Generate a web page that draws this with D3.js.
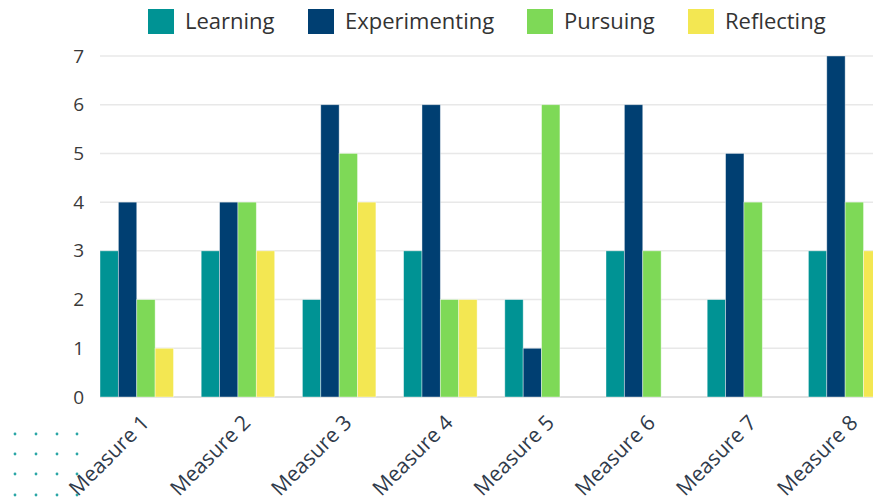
<!DOCTYPE html>
<html><head><meta charset="utf-8">
<script src="https://cdn.jsdelivr.net/npm/d3@7"></script>
<style>body{margin:0;background:#fff;overflow:hidden}svg{display:block}text{font-family:"Open Sans",sans-serif}</style>
</head><body><svg id="c" width="873" height="504"></svg>
<script>
const categories = ["Measure 1","Measure 2","Measure 3","Measure 4","Measure 5","Measure 6","Measure 7","Measure 8"];
const seriesNames = ["Learning","Experimenting","Pursuing","Reflecting"];
const learning = [3,3,2,3,2,3,2,3];
const experimenting = [4,4,6,6,1,6,5,7];
const pursuing = [2,4,5,2,6,3,4,4];
const reflecting = [1,3,4,2,0,0,0,3];
const yTicks = [0,1,2,3,4,5,6,7];
const colors = ["#009394","#003f72","#7ed957","#f3e752"];
const seriesValues = [learning, experimenting, pursuing, reflecting];

const svg = d3.select("#c");
const plotLeft = 100, step = 101.2, plotTop = 56, plotBottom = 397;
const x0 = d3.scaleBand().domain(categories).range([plotLeft, plotLeft + step*categories.length]);
const x1 = d3.scaleBand().domain(seriesNames).range([0, 73.5]);
const y = d3.scaleLinear().domain([0,7]).range([plotBottom, plotTop]);

// gridlines
svg.append("g").selectAll("line").data(yTicks).join("line")
  .attr("x1", plotLeft).attr("x2", 873)
  .attr("y1", d=>y(d)).attr("y2", d=>y(d))
  .attr("stroke", d=> d===0 ? "#d6d6d6" : "#e8e8e8").attr("stroke-width", 1.5);

// y axis labels
const yAxis = d3.axisLeft(y).tickValues(yTicks).tickFormat(d3.format("d")).tickSize(0).tickPadding(0);
const yg = svg.append("g").attr("transform", `translate(84,0)`).call(yAxis);
yg.select(".domain").remove();
yg.selectAll("text").attr("font-size", 19).attr("fill", "#3a3a3a").attr("font-family", "'Open Sans',sans-serif");

// bars
const groups = svg.append("g").selectAll("g").data(categories).join("g")
  .attr("transform", d=>`translate(${x0(d)},0)`);
groups.selectAll("rect").data((d,i)=> seriesNames.map((s,j)=>({s, v: seriesValues[j][i], c: colors[j]})))
  .join("rect")
  .attr("x", d=>x1(d.s)).attr("width", x1.bandwidth())
  .attr("y", d=>y(d.v)).attr("height", d=>y(0)-y(d.v))
  .attr("fill", d=>d.c).attr("stroke", "rgba(255,255,255,0.5)").attr("stroke-width", 0.8);

// x labels
const xg = svg.append("g").attr("transform", `translate(0,${plotBottom})`)
  .call(d3.axisBottom(x0).tickSize(0).tickPadding(0));
xg.select(".domain").remove();
xg.selectAll(".tick text")
  .attr("font-size", 21).attr("fill", "#2f3a4a").attr("font-family", "'Open Sans',sans-serif")
  .attr("text-anchor", "end").attr("dy", 0).attr("y", 0)
  .attr("transform", "translate(0,27) rotate(-45)");

// legend
const legendX = [148, 308, 527, 688];
const lg = svg.append("g").selectAll("g").data(seriesNames).join("g")
  .attr("transform", (d,i)=>`translate(${legendX[i]},9)`);
lg.append("rect").attr("width", 26).attr("height", 25).attr("fill", (d,i)=>colors[i]);
lg.append("text").attr("x", 37).attr("y", 20).attr("font-size", 22).attr("fill", "#333").text(d=>d);

// decorative dots
const dotX = [15,36,57,77], dotY = [434,454,474,495];
svg.append("g").selectAll("circle").data(d3.cross(dotX, dotY)).join("circle")
  .attr("cx", d=>d[0]).attr("cy", d=>d[1]).attr("r", 1.4).attr("fill", "#2aa6a6");
</script></body></html>
